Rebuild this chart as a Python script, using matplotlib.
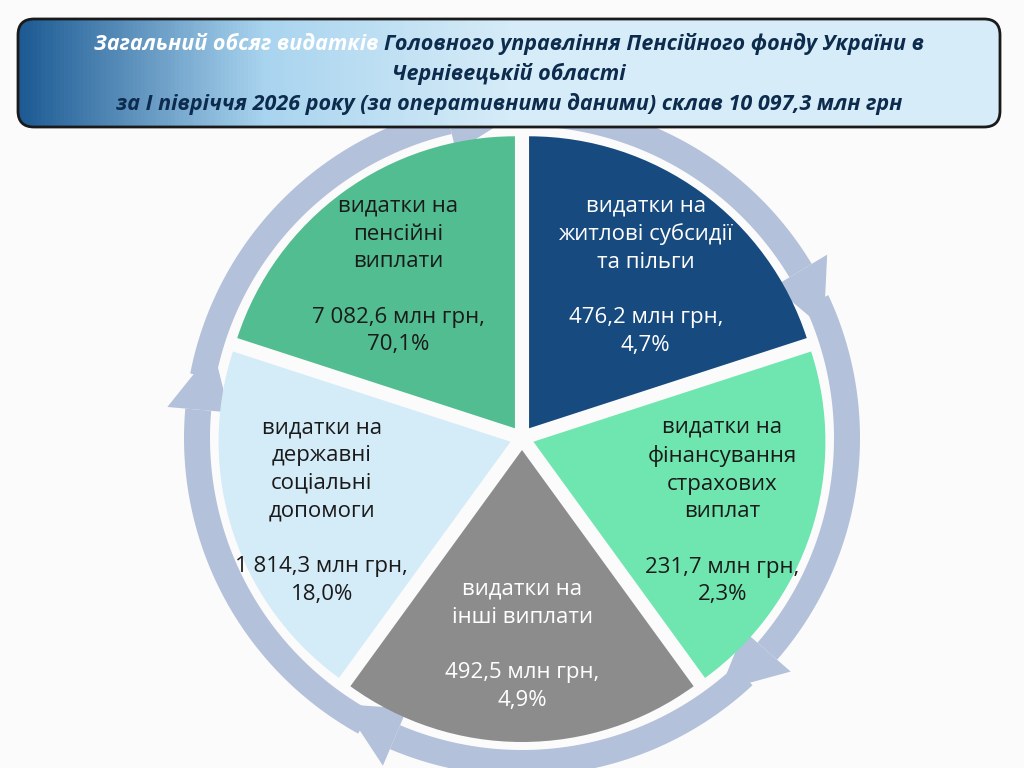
import numpy as np
import matplotlib.pyplot as plt
from matplotlib.patches import Wedge, Polygon, FancyBboxPatch
from matplotlib.colors import LinearSegmentedColormap

labels = ["видатки на\nжитлові субсидії\nта пільги",
          "видатки на\nфінансування\nстрахових\nвиплат",
          "видатки на\nінші виплати",
          "видатки на\nдержавні\nсоціальні\nдопомоги",
          "видатки на\nпенсійні\nвиплати"]
amounts = ["476,2", "231,7", "492,5", "1 814,3", "7 082,6"]
shares = ["4,7%", "2,3%", "4,9%", "18,0%", "70,1%"]
colors = ["#174a7e", "#6fe6b0", "#8c8c8c", "#d4ebf8", "#52bd91"]
txtcol = ["white", "#1a1a1a", "white", "#1a1a1a", "#1a1a1a"]

plt.rcParams['font.family'] = ['Open Sans', 'DejaVu Sans']
fig = plt.figure(figsize=(10.24, 7.68), dpi=100)
ax = fig.add_axes([0, 0, 1, 1])
ax.set_xlim(0, 1024)
ax.set_ylim(0, 768)
ax.axis('off')
fig.patch.set_facecolor("#fbfbfb")

cx, cy, R = 522, 330, 292
n = len(labels)
step = 360 / n
# arrow ring
ring = "#b3c1db"
ro, ri = 338, 312
for k in range(n):
    a0 = 97 - step * k
    a1 = 31 - step * k
    th = np.radians(np.linspace(a0, a1, 60))
    outer = np.c_[cx + ro * np.cos(th), cy + ro * np.sin(th)]
    inner = np.c_[cx + ri * np.cos(th[::-1]), cy + ri * np.sin(th[::-1])]
    ax.add_patch(Polygon(np.vstack([outer, inner]), closed=True, fc=ring, ec='none'))
    t1 = np.radians(a1)
    t2 = np.radians(a1 - 11)
    rm = (ro + ri) / 2 - 4
    head = [(cx + (ro + 18) * np.cos(t1), cy + (ro + 18) * np.sin(t1)),
            (cx + rm * np.cos(t2), cy + rm * np.sin(t2)),
            (cx + (ri - 18) * np.cos(t1), cy + (ri - 18) * np.sin(t1))]
    ax.add_patch(Polygon(head, closed=True, fc=ring, ec='none'))

gap = 12
for k in range(n):
    t2 = 90 - step * k
    t1 = t2 - step
    mid = np.radians((t1 + t2) / 2)
    ox, oy = cx + gap * np.cos(mid), cy + gap * np.sin(mid)
    ax.add_patch(Wedge((ox, oy), R, t1, t2, fc=colors[k], ec='none'))
    rr = 0.68 * R if k != 2 else 0.64 * R
    tx, ty = ox + rr * np.cos(mid), oy + rr * np.sin(mid)
    ax.text(tx, ty - 8, labels[k] + "\n\n" + amounts[k] + " млн грн,\n" + shares[k],
            ha='center', va='center', fontsize=16, color=txtcol[k], linespacing=1.42)

# title box
box = FancyBboxPatch((18, 768 - 127), 982, 108, boxstyle="round,pad=0,rounding_size=16",
                     fc='none', ec="#1a1a1a", lw=2, zorder=3)
ax.add_patch(box)
cmap = LinearSegmentedColormap.from_list("g", ["#1d5a93", "#a9d4ef", "#d6ecf8", "#d6ecf8", "#d6ecf8"])
grad = np.linspace(0, 1, 256)[None, :]
im = ax.imshow(grad, extent=(18, 1000, 768 - 127, 768 - 19), cmap=cmap, aspect='auto', zorder=2)
im.set_clip_path(box)
fs = dict(fontsize=15.5, fontweight='bold', fontstyle='italic', zorder=4)
fig.canvas.draw()
p1 = ax.text(0, 768 - 44, "Загальний обсяг видатків ", color='white', va='center', **fs)
p2 = ax.text(0, 768 - 44, "Головного управління Пенсійного фонду України в", color='#0d2b4d', va='center', **fs)
r = fig.canvas.get_renderer()
w1 = p1.get_window_extent(r).width
w2 = p2.get_window_extent(r).width
x0 = 509 - (w1 + w2) / 2
p1.set_x(x0)
p2.set_x(x0 + w1)
ax.text(509, 768 - 74, "Чернівецькій області", ha='center', va='center', color='#0d2b4d', **fs)
ax.text(509, 768 - 104, "за І півріччя 2026 року (за оперативними даними) склав 10 097,3 млн грн",
        ha='center', va='center', color='#0d2b4d', **fs)

fig.savefig("out.png", dpi=100, facecolor=fig.get_facecolor())
